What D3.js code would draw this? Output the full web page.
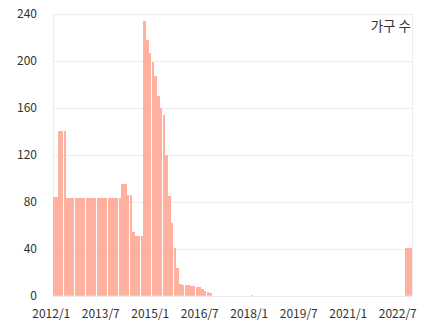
<!DOCTYPE html>
<html><head><meta charset="utf-8">
<script src="https://cdn.jsdelivr.net/npm/d3@7"></script>
<style>
html,body{margin:0;padding:0;background:#fff;}
svg{display:block;}
text{font-family:"Noto Sans CJK KR","Noto Sans",sans-serif;fill:#333;}
</style></head>
<body>
<svg id="c" width="429" height="336"></svg>
<script>
// month categories 2012/1 .. 2022/12
const months = [];
for (let y = 2012; y <= 2022; y++) for (let m = 1; m <= 12; m++) months.push(y + "/" + m);

const values = [
  84, 84, 84, 140, 140, 140, 83, 83, 83, 83,
  83, 83, 83, 83, 83, 83, 83, 83, 83, 83,
  83, 83, 83, 83, 83, 83, 95, 95, 86, 86,
  54, 51, 51, 51, 234, 218, 207, 199, 187, 170,
  160, 154, 120, 85, 62, 41, 24, 10, 9, 9,
  9, 8, 8, 7, 7, 6, 4, 3, 2, 0,
  0, 0, 0, 0, 0, 0, 0, 0, 0, 0,
  0, 0, 0, 1, 0, 0, 0, 0, 0, 0,
  0, 0, 0, 0, 0, 0, 0, 0, 0, 0,
  0, 0, 0, 0, 0, 0, 0, 0, 0, 0,
  0, 0, 0, 0, 0, 0, 0, 0, 0, 0,
  0, 0, 0, 0, 0, 0, 0, 0, 0, 0,
  0, 0, 0, 0, 0, 0, 0, 0, 0, 41,
  41, 41
];
const xTickLabels = ["2012/1","2013/7","2015/1","2016/7","2018/1","2019/7","2021/1","2022/7"];
const yTicks = [0, 40, 80, 120, 160, 200, 240];
const seriesName = "가구 수";

const plot = {left: 53, right: 412, top: 14, bottom: 295.7};
const step = 2.75;
const x0 = 49.9;

const svg = d3.select("#c");
const x = d3.scaleBand().domain(months).range([x0, x0 + months.length * step]).padding(0);
const y = d3.scaleLinear().domain([0, 240]).range([plot.bottom, plot.top]);

svg.append("defs").append("clipPath").attr("id", "clip")
  .append("rect").attr("x", plot.left).attr("y", plot.top - 2)
  .attr("width", plot.right - plot.left).attr("height", plot.bottom - plot.top + 2);

// gridlines
svg.append("g").selectAll("line").data(yTicks).join("line")
  .attr("x1", plot.left).attr("x2", plot.right)
  .attr("y1", d => Math.round(y(d)) + 0.5).attr("y2", d => Math.round(y(d)) + 0.5)
  .attr("stroke", "#ececec").attr("stroke-width", 1);
// borders
svg.append("line").attr("x1", plot.left + 0.5).attr("x2", plot.left + 0.5)
  .attr("y1", plot.top).attr("y2", plot.bottom).attr("stroke", "#ececec");
svg.append("line").attr("x1", plot.right + 0.5).attr("x2", plot.right + 0.5)
  .attr("y1", plot.top).attr("y2", plot.bottom).attr("stroke", "#ececec");

// bars
svg.append("g").attr("clip-path", "url(#clip)")
  .selectAll("rect").data(months.map((m, i) => ({m, v: values[i]})).filter(d => d.v > 0))
  .join("rect")
  .attr("x", d => x(d.m))
  .attr("width", x.bandwidth() - 0.2)
  .attr("y", d => y(d.v))
  .attr("height", d => y(0) - y(d.v))
  .attr("shape-rendering", "crispEdges")
  .attr("fill", "#ffb09f");

// y axis labels
const yAxis = d3.axisLeft(y).tickValues(yTicks).tickSize(0).tickPadding(0);
const gy = svg.append("g").attr("transform", "translate(37,0)").call(yAxis);
gy.select(".domain").remove();
gy.selectAll("text").style("font-size", "12px").attr("fill", "#333")
  .style("font-family", '"Noto Sans CJK KR","Noto Sans",sans-serif');

// x axis labels
const xAxis = d3.axisBottom(x).tickValues(xTickLabels).tickSize(0).tickPadding(0);
const gx = svg.append("g").attr("transform", "translate(0,309)").call(xAxis);
gx.select(".domain").remove();
gx.selectAll("text").style("font-size", "12px").attr("fill", "#333")
  .style("font-family", '"Noto Sans CJK KR","Noto Sans",sans-serif');

// legend
svg.append("text").attr("x", 411).attr("y", 31).attr("text-anchor", "end")
  .style("font-size", "13.5px").text(seriesName);
</script>
</body></html>
